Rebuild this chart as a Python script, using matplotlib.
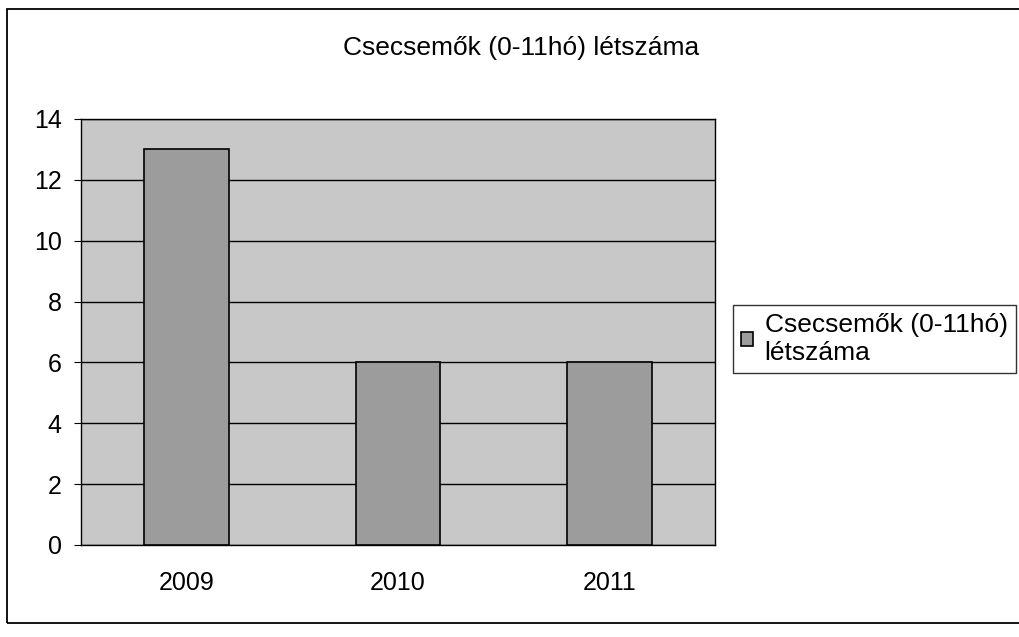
import matplotlib.pyplot as plt
from matplotlib.patches import Rectangle

# Data
years = ['2009', '2010', '2011']
counts = [13, 6, 6]
series_label = 'Csecsemők (0-11hó)\nlétszáma'
title = 'Csecsemők (0-11hó) létszáma'

plt.rcParams['font.family'] = ['Liberation Sans', 'DejaVu Sans']

fig = plt.figure(figsize=(10.19, 6.37), dpi=100)
ax = fig.add_axes([81 / 1019, 1 - 545 / 637, 634 / 1019, 426 / 637])

# outer chart frame
fig.patches.append(Rectangle((7 / 1019, 1 - 623 / 637), 1.2, 614 / 637,
                             transform=fig.transFigure, fill=False,
                             edgecolor='black', lw=1.3))

x = range(len(years))
ax.bar(x, counts, width=0.40, color='#9c9c9c', edgecolor='black',
       linewidth=1.2, zorder=3, label=series_label)

ax.set_facecolor('#c8c8c8')
ax.set_xlim(-0.5, 2.5)
ax.set_ylim(0, 14)
ax.set_yticks(range(0, 15, 2))
ax.yaxis.grid(True, color='black', lw=1)
ax.set_axisbelow(True)
ax.set_xticks(list(x))
ax.set_xticklabels(years)
ax.tick_params(axis='x', length=0, pad=19, labelsize=18)
ax.tick_params(axis='y', length=5, direction='out', labelsize=18, pad=9)
for s in ax.spines.values():
    s.set_color('black')
    s.set_linewidth(1)

fig.text(521 / 1019, 1 - 48 / 637, title, ha='center', va='center', fontsize=19)

leg = ax.legend(loc='upper left', bbox_to_anchor=(733 / 1019, 1 - 305 / 637),
                bbox_transform=fig.transFigure, fontsize=19,
                frameon=True, fancybox=False, edgecolor='black',
                handlelength=0.45, handleheight=0.45, handletextpad=0.45,
                borderpad=0.3, borderaxespad=0)
leg.get_frame().set_linewidth(1)

fig.savefig('out.png', dpi=100)
